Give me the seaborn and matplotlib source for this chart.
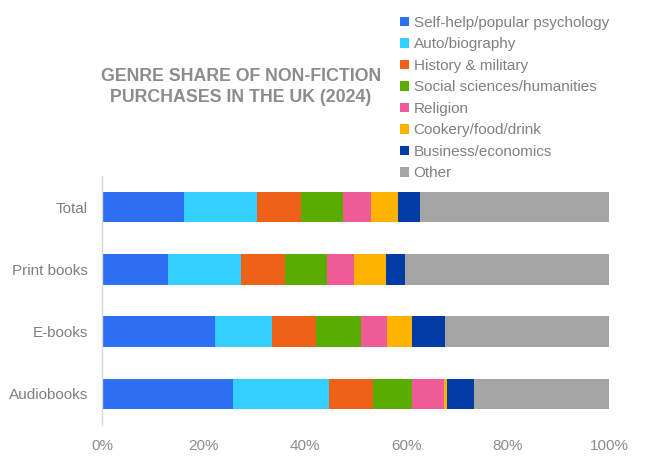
import matplotlib
matplotlib.use("Agg")
import matplotlib.pyplot as plt
import seaborn as sns
import pandas as pd
import numpy as np

categories = ["Total", "Print books", "E-books", "Audiobooks"]
genres = ["Self-help/popular psychology", "Auto/biography", "History & military",
          "Social sciences/humanities", "Religion", "Cookery/food/drink",
          "Business/economics", "Other"]
self_help = [16.2, 13.1, 22.3, 25.9]
auto_bio = [14.4, 14.4, 11.3, 18.9]
history = [8.7, 8.6, 8.6, 8.7]
social = [8.3, 8.3, 8.9, 7.7]
religion = [5.5, 5.3, 5.1, 6.2]
cookery = [5.3, 6.3, 5.0, 0.7]
business = [4.3, 3.8, 6.5, 5.3]
other = [37.3, 40.2, 32.3, 26.6]
colors = ["#2D6FF2", "#33CFFF", "#EF6018", "#5AAC00", "#EF5B97", "#FFB300", "#003BA6", "#A5A5A5"]
xticks = [0, 20, 40, 60, 80, 100]
xticklabels = ["0%", "20%", "40%", "60%", "80%", "100%"]

df = pd.DataFrame({g: v for g, v in zip(genres, [self_help, auto_bio, history, social,
                                                 religion, cookery, business, other])},
                  index=categories)

sns.set_theme(style="white")
plt.rcParams['font.family'] = ['Liberation Sans', 'DejaVu Sans']

fig = plt.figure(figsize=(6.56, 4.71), dpi=100)
ax = fig.add_axes([102/656, 1-425/471, (609-102)/656, (425-176)/471])

ypos = np.arange(len(categories))
left = np.zeros(len(categories))
handles = []
for g, c in zip(genres, colors):
    h = ax.barh(ypos, df[g].values, left=left, height=0.49, color=c, label=g, linewidth=0)
    handles.append(h)
    left += df[g].values

ax.set_xlim(0, 100)
ax.set_ylim(3.5, -0.5)
ax.set_yticks(ypos)
ax.set_yticklabels(categories, fontsize=11, color="#7F7F7F")
ax.set_xticks(xticks)
ax.set_xticklabels(xticklabels, fontsize=11, color="#8C8C8C")
ax.tick_params(axis="both", length=0)
ax.tick_params(axis="x", pad=10)
ax.tick_params(axis="y", pad=10)
for s in ["top", "right", "bottom"]:
    ax.spines[s].set_visible(False)
ax.spines["left"].set_color("#D9D9D9")
ax.spines["left"].set_linewidth(1)

fig.text(241/656, 1-87/471, "GENRE SHARE OF NON-FICTION\nPURCHASES IN THE UK (2024)",
         ha="center", va="center", fontsize=12.8, fontweight="bold", color="#8C8C8C",
         linespacing=1.28)

leg = fig.legend(handles, genres, loc="upper left", bbox_to_anchor=(400/656, 1-16/471),
                 frameon=False, fontsize=11, handlelength=0.6, handleheight=0.6,
                 handletextpad=0.3, labelspacing=0.49, borderaxespad=0, borderpad=0)
for t in leg.get_texts():
    t.set_color("#808080")

fig.savefig("out.png", dpi=100)
